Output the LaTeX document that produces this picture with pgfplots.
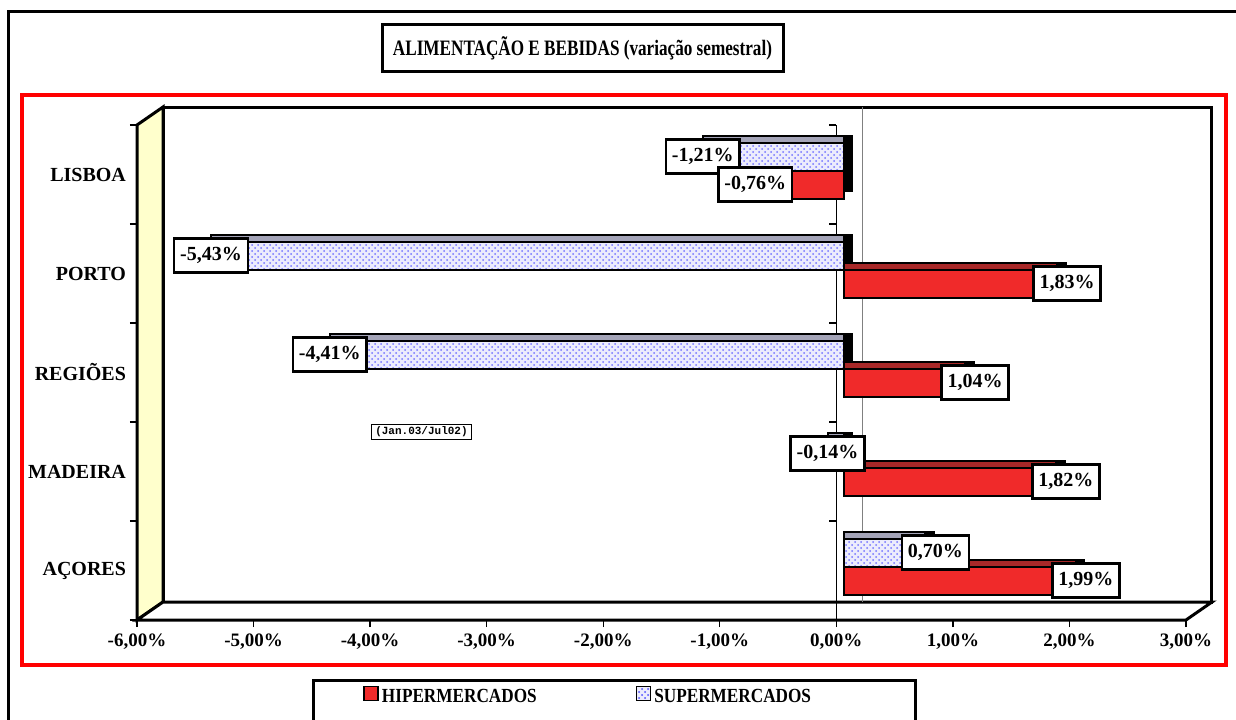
\documentclass[border=0pt]{standalone}
\usepackage{fontspec}
\setmainfont{Liberation Serif}
\newfontfamily\monofont{Liberation Mono}
\usepackage{graphicx}
\usepackage{pgfplots}
\usepackage{pgfplotstable}
\pgfplotsset{compat=1.18}
\usetikzlibrary{patterns}

\definecolor{hipfront}{HTML}{F02A2A}
\definecolor{hiptop}{HTML}{A82828}
\definecolor{supfront}{HTML}{ECECFC}
\definecolor{suptop}{HTML}{A4A4B8}
\definecolor{sidewall}{HTML}{FFFFCC}

% y: 0 AÇORES ... 4 LISBOA
\pgfplotstableread{
y x
0 1.99
1 1.82
2 1.04
3 1.83
4 -0.76
}\hiper
\pgfplotstableread{
y x
0 0.70
1 -0.14
2 -4.41
3 -5.43
4 -1.21
}\super

\begin{document}
\begin{tikzpicture}
\clip (0,0) rectangle (618pt,359.5pt);
\begin{scope}[x=0.5pt, y=-0.5pt, yshift=359.5pt]
  \draw[line width=1.5pt] (8,740) -- (8,12) -- (1245,12);
  \draw[red, line width=2pt] (22,95) rectangle (1226,665);
  \node[draw, line width=1.5pt, minimum width=200.5pt, minimum height=23.5pt, inner sep=0pt,
    font=\bfseries\fontsize{11}{12}\selectfont]
    at (582.5,48.5) {\scalebox{0.78}[1]{ALIMENTAÇÃO E BEBIDAS (variação semestral)}};
  \draw[line width=1.5pt] (313,680) rectangle (915,740);
\end{scope}

\begin{axis}[
  at={(68.5pt,49.5pt)}, anchor=south west,
  scale only axis, width=524.5pt, height=247.5pt,
  xmin=-6, xmax=3, ymin=-0.5, ymax=4.5,
  xbar, bar width=14pt,
  clip=false,
  axis line style={draw=none},
  tick pos=left, tick align=outside, major tick length=3.5pt,
  tick style={black, line width=0.7pt},
  xtick={-6,...,3},
  /pgf/number format/assume math mode=true,
  xticklabel={\pgfmathprintnumber[fixed,fixed zerofill,precision=2,use comma]{\tick}\%},
  xticklabel style={font=\bfseries\fontsize{9.5}{11}\selectfont},
  ytick={-0.5,0.5,...,4.5}, yticklabels={,,,,,,},
  extra y ticks={0,1,2,3,4},
  extra y tick labels={AÇORES,MADEIRA,REGIÕES,PORTO,LISBOA},
  extra y tick style={major tick length=0pt, yticklabel style={font=\bfseries, xshift=-2pt}},
  legend style={at={(0.2154,-0.1556)}, anchor=west, draw=none, fill=none,
    legend columns=2, font=\bfseries, inner sep=0pt,
    /tikz/every even column/.append style={column sep=48pt},
    nodes={inner sep=1.5pt}},
  lbl/.style={point meta=x, draw=none, fill=none, forget plot,
    nodes near coords={\pgfmathprintnumber[fixed,fixed zerofill,precision=2,use comma]{\pgfplotspointmeta}\%},
    every node near coord/.style={anchor=center, draw=black, fill=white, line width=1.25pt, yshift=#1,
      font=\bfseries, inner xsep=3pt, inner ysep=0pt, minimum height=17pt}},
  pos/.style={restrict x to domain=0:10, xshift=8.75pt, yshift=2pt},
  neg/.style={restrict x to domain=-10:0, xshift=3.75pt, yshift=2pt},
  supstyle/.style={fill=supfront, postaction={pattern=crosshatch dots, pattern color=blue!55}},
]
% walls and floor
\draw[line width=1.5pt, fill=sidewall] (axis cs:-6,-0.5) -- ([xshift=13pt,yshift=9pt]axis cs:-6,-0.5)
  -- ([xshift=13pt,yshift=9pt]axis cs:-6,4.5) -- (axis cs:-6,4.5) -- cycle;
\draw[line width=1.5pt, fill=white] ([xshift=13pt,yshift=9pt]axis cs:-6,-0.5) rectangle ([xshift=13pt,yshift=9pt]axis cs:3,4.5);
\draw[line width=1.5pt, fill=white] (axis cs:-6,-0.5) -- ([xshift=13pt,yshift=9pt]axis cs:-6,-0.5)
  -- ([xshift=13pt,yshift=9pt]axis cs:3,-0.5) -- (axis cs:3,-0.5) -- cycle;
\draw[gray, line width=0.5pt] ([xshift=13pt,yshift=9pt]axis cs:0,-0.5) -- ([xshift=13pt,yshift=9pt]axis cs:0,4.5);
\draw[black, line width=0.7pt] (axis cs:0,-0.5) -- (axis cs:0,4.5);
\pgfplotsinvokeforeach{-0.5,0.5,1.5,2.5,3.5,4.5}{\draw[line width=0.7pt] (axis cs:0,#1) -- ++(-3.5pt,0pt);}

% depth: side faces
\addplot[forget plot, fill=black, draw=black, bar shift=-7pt, xshift=8.25pt, yshift=5.5pt] table[x=x,y=y]{\hiper};
\addplot[forget plot, fill=black, draw=black, bar shift=7pt, xshift=8.25pt, yshift=5.5pt] table[x=x,y=y]{\super};
% depth: top faces
\addplot[forget plot, fill=hiptop, draw=black, line width=1pt, bar shift=-7pt, xshift=3.75pt, yshift=5.5pt] table[x=x,y=y]{\hiper};
\addplot[forget plot, fill=suptop, draw=black, line width=1pt, bar shift=7pt, xshift=3.75pt, yshift=5.5pt] table[x=x,y=y]{\super};
% front faces
\addplot[fill=hipfront, draw=black, line width=1pt, bar shift=-7pt, xshift=3.75pt, yshift=2pt,
  legend image code/.code={\draw[fill=hipfront, line width=0.8pt] (0pt,-3.5pt) rectangle (7pt,3.5pt);}]
  table[x=x,y=y]{\hiper};
\addlegendentry{\scalebox{0.86}[1]{HIPERMERCADOS}}
\addplot[supstyle, draw=black, line width=1pt, bar shift=7pt, xshift=3.75pt, yshift=2pt,
  legend image code/.code={\draw[fill=supfront, postaction={pattern=crosshatch dots, pattern color=blue!55}, line width=0.8pt] (0pt,-3.5pt) rectangle (7pt,3.5pt);}]
  table[x=x,y=y]{\super};
\addlegendentry{\scalebox{0.86}[1]{SUPERMERCADOS}}
% value labels
\addplot[lbl=7pt, neg, bar shift=7pt] table[x=x,y=y]{\super};
\addplot[lbl=7pt, pos, bar shift=7pt] table[x=x,y=y]{\super};
\addplot[lbl=-7pt, neg, bar shift=-7pt] table[x=x,y=y]{\hiper};
\addplot[lbl=-7pt, pos, bar shift=-7pt] table[x=x,y=y]{\hiper};
\end{axis}

\begin{scope}[x=0.5pt, y=-0.5pt, yshift=359.5pt]
  \node[draw, line width=0.6pt, inner xsep=2pt, inner ysep=1pt,
    font=\monofont\bfseries\fontsize{5.5}{6}\selectfont] at (421.5,432) {(Jan.03/Jul02)};
\end{scope}
\end{tikzpicture}
\end{document}
